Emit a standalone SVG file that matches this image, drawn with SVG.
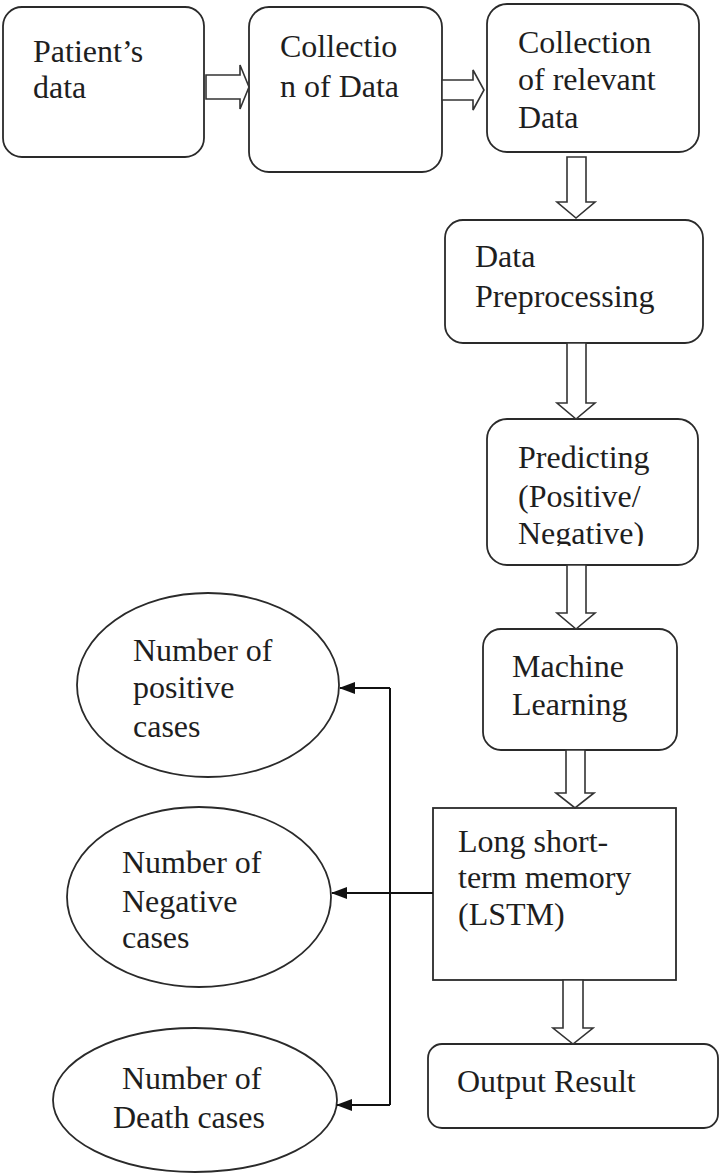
<svg xmlns="http://www.w3.org/2000/svg" width="720" height="1174" viewBox="0 0 720 1174">
<style>
.box{fill:#fff;stroke:#2a2a2a;stroke-width:1.8}
.blk{fill:#fff;stroke:#333;stroke-width:1.6;stroke-linejoin:miter}
.t{font-family:"Liberation Serif","Times New Roman",serif;font-size:32px;fill:#1e1e1e}
.ln{fill:none;stroke:#111;stroke-width:2}
</style>
<defs>
<marker id="ah" viewBox="0 0 16 12" refX="15" refY="6" markerWidth="16" markerHeight="12" markerUnits="userSpaceOnUse" orient="auto">
<path d="M0,0 L16,6 L0,12 z" fill="#111"/>
</marker>
<clipPath id="clipPred"><rect x="487" y="419" width="211" height="127"/></clipPath>
</defs>
<rect width="720" height="1174" fill="#fff"/>

<g id="patients-data">
<rect class="box" x="3" y="7" width="201" height="150" rx="19"/>
<text class="t" x="33" y="62">Patient’s</text>
<text class="t" x="33" y="98">data</text>
</g>
<g id="collection-of-data">
<rect class="box" x="249" y="7" width="193" height="165" rx="20"/>
<text class="t" x="280" y="57">Collectio</text>
<text class="t" x="280" y="97">n of Data</text>
</g>
<g id="collection-relevant">
<rect class="box" x="487" y="4" width="212" height="148" rx="20"/>
<text class="t" x="518" y="53">Collection</text>
<text class="t" x="518" y="90">of relevant</text>
<text class="t" x="518" y="128">Data</text>
</g>
<g id="data-preprocessing">
<rect class="box" x="445" y="220" width="258" height="123" rx="18"/>
<text class="t" x="475" y="267">Data</text>
<text class="t" x="475" y="307">Preprocessing</text>
</g>
<g id="predicting">
<rect class="box" x="487" y="419" width="211" height="146" rx="20"/>
<g clip-path="url(#clipPred)">
<text class="t" x="518" y="468">Predicting</text>
<text class="t" x="518" y="507">(Positive/</text>
<text class="t" x="518" y="544">Negative)</text>
</g>
</g>
<g id="machine-learning">
<rect class="box" x="483" y="629" width="194" height="121" rx="18"/>
<text class="t" x="512" y="677">Machine</text>
<text class="t" x="512" y="715">Learning</text>
</g>
<g id="lstm">
<rect class="box" x="433" y="808" width="243" height="172"/>
<text class="t" x="458" y="852">Long short-</text>
<text class="t" x="458" y="888">term memory</text>
<text class="t" x="458" y="925">(LSTM)</text>
</g>
<g id="output-result">
<rect class="box" x="428" y="1044" width="290" height="84" rx="14"/>
<text class="t" x="457" y="1092">Output Result</text>
</g>
<g id="positive-cases">
<ellipse class="box" cx="208" cy="685" rx="131" ry="92"/>
<text class="t" x="133" y="661">Number of</text>
<text class="t" x="133" y="698">positive</text>
<text class="t" x="133" y="737">cases</text>
</g>
<g id="negative-cases">
<ellipse class="box" cx="199" cy="897" rx="132" ry="90"/>
<text class="t" x="122" y="873">Number of</text>
<text class="t" x="122" y="912">Negative</text>
<text class="t" x="122" y="948">cases</text>
</g>
<g id="death-cases">
<ellipse class="box" cx="195" cy="1100" rx="142" ry="72"/>
<text class="t" x="122" y="1089">Number of</text>
<text class="t" x="113" y="1128">Death cases</text>
</g>

<g id="connectors">
<polygon class="blk" points="206,75 240,75 240,65 249,87 240,109 240,99 206,99"/>
<polygon class="blk" points="442,80 473,80 473,70 484,90 473,110 473,100 442,100"/>
<polygon class="blk" points="567,157 586,157 586,202 595,202 576,218 557,202 567,202"/>
<polygon class="blk" points="567,343 586,343 586,403 595,403 576,419 557,403 567,403"/>
<polygon class="blk" points="567,565 586,565 586,613 595,613 576,629 557,613 567,613"/>
<polygon class="blk" points="566,750 585,750 585,793 594,793 575,808 556,793 566,793"/>
<polygon class="blk" points="563,980 583,980 583,1028 593,1028 573,1044 553,1028 563,1028"/>
<line class="ln" x1="433" y1="893" x2="332" y2="893" marker-end="url(#ah)"/>
<polyline class="ln" points="390,1105 390,688"/>
<line class="ln" x1="390" y1="688" x2="340" y2="688" marker-end="url(#ah)"/>
<line class="ln" x1="390" y1="1105" x2="337" y2="1105" marker-end="url(#ah)"/>
</g>
</svg>
